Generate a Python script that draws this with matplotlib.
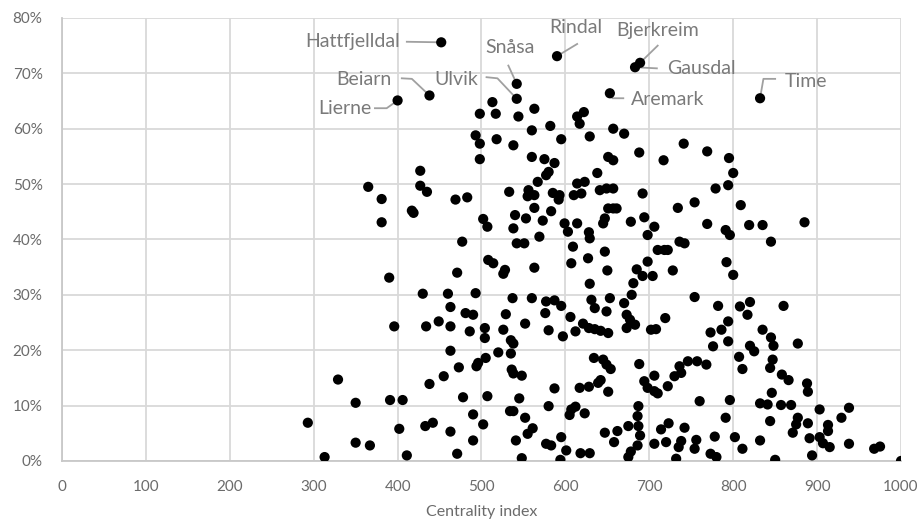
import matplotlib
matplotlib.use('Agg')
import matplotlib.pyplot as plt
from matplotlib.ticker import FuncFormatter, MultipleLocator

plt.rcParams['font.family'] = ['Lato', 'DejaVu Sans']

# municipalities: centrality index vs. share (percent)
centrality = [
    513, 498, 517, 544, 563, 614, 622, 617, 493, 498, 518, 538, 560, 582, 595, 629, 657, 670,
    498, 560, 575, 587, 580, 577, 567, 651, 657, 688, 717, 741, 638, 614, 623, 533, 556, 555,
    563, 585, 593, 592, 610, 619, 641, 649, 657, 692, 563, 583, 573, 553, 540, 538, 502,
    507, 599, 603, 614, 628, 629, 645, 647, 651, 657, 661, 678, 694, 706, 698, 734, 542, 551,
    569, 609, 647, 627, 607, 563, 508, 514, 528, 526, 650, 685, 698, 710, 718, 722, 728, 736,
    742, 692, 704,
    493, 537, 560, 577, 587, 595, 606, 576, 580, 597, 629, 631, 635, 649, 653, 670, 679, 681,
    673, 677, 683, 673, 529, 526, 552, 504, 504, 535, 538, 621, 628, 635, 642, 651, 612, 702,
    708, 719, 490, 520, 535, 505, 494, 496, 536, 538, 548, 587, 617, 628, 639, 642, 651, 634,
    645, 649, 654, 688, 694, 706, 698, 706, 710, 722, 730, 738, 736, 746, 507, 545, 534, 538,
    580, 552, 502, 490, 607, 612, 605, 623, 561, 555, 541, 577, 583, 595, 601, 594, 548, 490,
    618, 629, 647, 658, 662, 675, 687, 686, 687, 689, 686, 678, 675, 706, 714, 720, 723, 735,
    732, 738, 742,
    782, 808, 820, 817, 860, 794, 786, 773, 776, 794, 835, 845, 848, 820, 825, 877, 807, 811,
    757, 768, 847, 844, 858, 866, 888, 889, 846, 760, 796, 832, 841, 857, 869, 903, 938, 929,
    791, 844, 877, 875, 871, 889, 913, 913, 778, 756, 754, 802, 811, 832, 891, 903, 907, 915,
    938, 968, 975, 773, 780, 850, 894, 1000, 754, 800,
    769, 795, 800, 794, 779, 754, 809, 769, 791, 796, 819, 835, 885, 845, 792,
    365, 381, 381, 427, 427, 435, 417, 419, 469, 483, 477, 390, 471, 430, 460,
    463, 481, 396, 434, 449, 463, 486, 463, 473, 455, 438, 329, 350, 391, 406, 478, 293, 402,
    433, 442, 463, 350, 367, 471, 313, 411,
]
share = [
    64.8, 62.7, 62.7, 62.2, 63.6, 62.2, 63.0, 60.9, 58.8, 57.3, 58.1, 57.0, 59.7, 60.5, 58.1, 58.6, 60.0, 59.1,
    54.5, 54.9, 54.5, 53.8, 52.2, 51.6, 50.4, 54.9, 54.3, 55.7, 54.3, 57.3, 52.0, 50.1, 50.4, 48.6, 48.9, 47.8,
    48.0, 48.4, 48.0, 47.2, 48.0, 48.3, 48.9, 49.2, 49.2, 48.3, 45.7, 45.1, 43.4, 43.8, 44.4, 42.0, 43.7,
    42.3, 42.9, 41.4, 42.9, 41.3, 40.2, 42.9, 43.8, 45.6, 45.6, 45.6, 43.2, 44.0, 42.3, 40.8, 45.7, 39.3, 39.3,
    40.5, 38.7, 37.8, 36.6, 35.7, 34.9, 36.3, 35.7, 34.5, 33.8, 34.4, 34.6, 36.0, 38.1, 38.1, 38.1, 34.4, 39.6,
    39.3, 33.4, 33.4,
    30.3, 29.4, 29.4, 28.8, 29.0, 28.0, 26.0, 26.7, 23.6, 22.5, 32.0, 29.1, 27.6, 27.0, 29.4, 28.5, 30.0, 32.1,
    26.4, 25.5, 24.6, 24.0, 26.5, 23.7, 24.8, 24.0, 22.2, 21.8, 21.2, 24.8, 24.0, 23.8, 23.5, 23.1, 23.4, 23.7,
    23.8, 25.8, 26.4, 19.6, 19.4, 18.6, 17.1, 17.7, 16.5, 15.8, 15.4, 13.1, 13.2, 13.4, 14.1, 14.6, 12.5, 18.6,
    18.3, 17.4, 16.6, 17.5, 14.4, 15.4, 13.2, 12.6, 12.2, 13.5, 15.3, 15.9, 17.1, 18.0, 11.7, 11.3, 9.0, 9.0,
    9.9, 7.8, 6.6, 8.4, 9.3, 9.8, 8.3, 8.6, 5.9, 4.9, 3.7, 3.1, 2.8, 4.3, 1.9, 0.2, 0.5, 3.7,
    1.4, 1.4, 5.1, 3.4, 5.4, 6.3, 9.9, 8.1, 6.3, 4.6, 2.8, 1.7, 0.7, 3.1, 5.7, 3.4, 6.8, 2.5,
    0.4, 3.6, 6.0,
    28.0, 27.9, 28.7, 26.4, 28.0, 25.2, 23.7, 23.2, 20.7, 21.6, 23.7, 22.3, 20.8, 20.8, 19.8, 21.2, 18.8, 16.6,
    18.0, 17.4, 18.3, 16.8, 15.6, 14.6, 14.0, 12.5, 12.3, 10.8, 11.0, 10.4, 10.2, 10.1, 10.1, 9.3, 9.6, 7.8,
    7.8, 7.2, 7.8, 6.6, 5.1, 6.8, 6.5, 5.4, 4.4, 3.8, 2.2, 4.3, 2.2, 3.7, 4.1, 4.3, 3.2, 2.5,
    3.1, 2.2, 2.6, 1.3, 0.7, 0.2, 1.0, 0.0, 29.6, 33.6,
    55.9, 54.7, 52.0, 49.8, 49.2, 46.7, 46.2, 42.8, 41.7, 40.8, 42.6, 42.6, 43.1, 39.6, 35.9,
    49.5, 47.3, 43.1, 52.4, 49.7, 48.6, 45.2, 44.8, 47.2, 47.6, 39.6, 33.1, 34.0, 30.2, 30.2,
    27.8, 26.7, 24.3, 24.3, 25.2, 24.3, 23.4, 19.9, 16.9, 15.3, 13.9, 14.7, 10.5, 11.0, 11.0, 11.5, 6.9, 5.8,
    6.3, 6.9, 5.3, 3.3, 2.8, 1.3, 0.7, 1.0,
]

# named outliers
label_names = ['Hattfjelldal', 'Lierne', 'Beiarn', 'Ulvik', 'Snåsa',
               'Rindal', 'Bjerkreim', 'Gausdal', 'Aremark', 'Time']
label_x = [452, 400, 438, 542, 542, 590, 689, 683, 653, 832]
label_y = [75.6, 65.1, 66.0, 65.4, 68.1, 73.1, 71.9, 71.1, 66.4, 65.5]

# text anchor, alignment and leader-line bend for each name
label_layout = {
    'Hattfjelldal': ((403, 75.7), 'right', [(411, 75.7)]),
    'Lierne':       ((369, 63.7), 'right', [(373, 63.7), (387, 63.7)]),
    'Beiarn':       ((393, 68.8), 'right', [(405, 69.1), (417, 69.0)]),
    'Ulvik':        ((496, 68.8), 'right', [(506, 69.3), (519, 69.1)]),
    'Snåsa':        ((534, 74.6), 'center', [(532, 71.4)]),
    'Rindal':       ((613, 78.2), 'center', [(614, 75.3)]),
    'Bjerkreim':    ((710, 77.8), 'center', [(710, 75.0)]),
    'Gausdal':      ((721, 70.9), 'left', [(709, 70.9)]),
    'Aremark':      ((678, 65.3), 'left', [(669, 65.5), (656, 65.5)]),
    'Time':         ((862, 68.6), 'left', [(850, 69.0), (836, 69.0)]),
}

tick_color = '#6b6b6b'
label_color = '#7a7a7a'
grid_color = '#d9d9d9'

fig = plt.figure(figsize=(9.21, 5.28), dpi=100)
ax = fig.add_axes([0.0673, 0.127, 0.911, 0.839])

all_x = centrality + label_x
all_y = share + label_y
ax.scatter(all_x, [v / 100 for v in all_y], s=54, color='black', edgecolors='none', zorder=3)

for name, px, py in zip(label_names, label_x, label_y):
    (tx, ty), ha, bend = label_layout[name]
    ax.text(tx, ty / 100, name, ha=ha, va='center', fontsize=14, color=label_color, zorder=4)
    path = bend + [(px, py)]
    ax.plot([p[0] for p in path], [p[1] / 100 for p in path], color='#a0a0a0', lw=1.3, zorder=2)

ax.set_xlim(0, 1000)
ax.set_ylim(0, 0.8)
ax.xaxis.set_major_locator(MultipleLocator(100))
ax.yaxis.set_major_locator(MultipleLocator(0.1))
ax.yaxis.set_major_formatter(FuncFormatter(lambda v, pos: f'{v * 100:.0f}%'))

ax.grid(True, color=grid_color, lw=1.3, zorder=0)
ax.set_axisbelow(True)
for side in ['top', 'right']:
    ax.spines[side].set_visible(False)
for side in ['left', 'bottom']:
    ax.spines[side].set_color('#c8c8c8')
    ax.spines[side].set_linewidth(1.3)

ax.tick_params(length=0, labelsize=11, colors=tick_color)
ax.tick_params(axis='x', pad=14)
ax.tick_params(axis='y', pad=14)
ax.set_xlabel('Centrality index', fontsize=11.5, color=tick_color, labelpad=8)

fig.savefig('out.png', dpi=100)
